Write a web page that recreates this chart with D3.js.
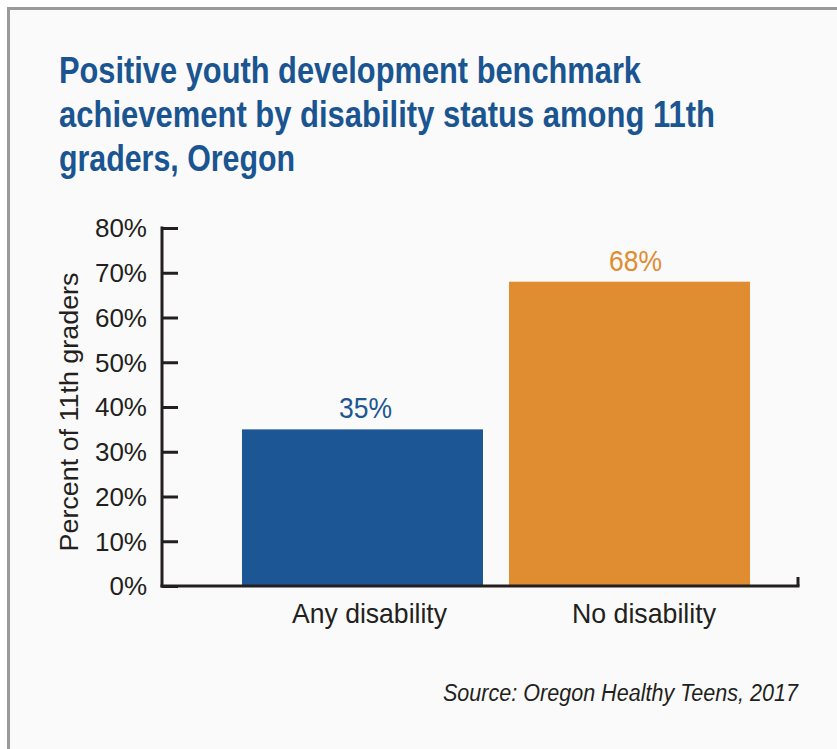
<!DOCTYPE html>
<html>
<head>
<meta charset="utf-8">
<script src="https://cdn.jsdelivr.net/npm/d3@7"></script>
<style>
  html, body { margin: 0; padding: 0; background: #ffffff; }
  svg { display: block; }
</style>
</head>
<body>
<svg id="chart" width="837" height="749"></svg>
<script>
// ---- data ----
const categories = ["Any disability", "No disability"];
const values = [35, 68];
const valueLabels = ["35%", "68%"];
const barColors = ["#1d5694", "#e08c31"];
const yTicks = [0, 10, 20, 30, 40, 50, 60, 70, 80];
const yTickLabels = ["0%", "10%", "20%", "30%", "40%", "50%", "60%", "70%", "80%"];
const titleLines = [
  "Positive youth development benchmark",
  "achievement by disability status among 11th",
  "graders, Oregon"
];
const yAxisTitle = "Percent of 11th graders";
const sourceText = "Source: Oregon Healthy Teens, 2017";

// ---- layout ----
const svg = d3.select("#chart");
const sans = "'Liberation Sans', Arial, sans-serif";

// panel
svg.append("rect").attr("x", 0).attr("y", 0).attr("width", 837).attr("height", 749).attr("fill", "#ffffff");
svg.append("rect")
  .attr("x", 8.5).attr("y", 8.5).attr("width", 840).attr("height", 760)
  .attr("fill", "#fafafa").attr("stroke", "#9a9a9a").attr("stroke-width", 3);

// title
const titleWidths = [582, 656, 236];
svg.append("g").selectAll("text").data(titleLines).join("text")
  .attr("x", 59)
  .attr("y", (d, i) => 83 + i * 44)
  .attr("font-family", sans)
  .attr("font-weight", "bold")
  .attr("font-size", 36)
  .attr("fill", "#1a5592")
  .attr("textLength", (d, i) => titleWidths[i])
  .attr("lengthAdjust", "spacingAndGlyphs")
  .text(d => d);

const x0 = 162, x1 = 798, yTop = 228, yBase = 586;
const y = d3.scaleLinear().domain([0, 80]).range([yBase, yTop]);
const x = d3.scaleBand().domain(categories).range([242, 750]).paddingInner(0.0975);

// bars
svg.append("g").selectAll("rect").data(categories).join("rect")
  .attr("x", d => x(d))
  .attr("y", (d, i) => y(values[i]))
  .attr("width", x.bandwidth())
  .attr("height", (d, i) => yBase - y(values[i]))
  .attr("fill", (d, i) => barColors[i]);

// value labels
svg.append("g").selectAll("text").data(categories).join("text")
  .attr("x", (d, i) => x(d) + x.bandwidth() / 2 + (i === 0 ? 3 : 6))
  .attr("y", (d, i) => y(values[i]) - 11)
  .attr("text-anchor", "middle")
  .attr("font-family", sans)
  .attr("font-size", 30)
  .attr("fill", (d, i) => barColors[i])
  .attr("textLength", 53)
  .attr("lengthAdjust", "spacingAndGlyphs")
  .text((d, i) => valueLabels[i]);

// y axis
const yAxis = d3.axisRight(y).tickValues(yTicks).tickSize(16).tickFormat("");
const gy = svg.append("g").attr("transform", `translate(${x0},0)`).call(yAxis);
gy.select(".domain").remove();
gy.selectAll(".tick line").attr("stroke", "#231f20").attr("stroke-width", 3);
svg.append("line").attr("x1", x0).attr("x2", x0).attr("y1", yTop - 1.5).attr("y2", yBase + 1.5)
  .attr("stroke", "#231f20").attr("stroke-width", 3);
svg.append("g").selectAll("text").data(yTicks).join("text")
  .attr("x", 147)
  .attr("y", d => y(d))
  .attr("dy", "0.36em")
  .attr("text-anchor", "end")
  .attr("font-family", sans)
  .attr("font-size", 26)
  .attr("fill", "#231f20")
  .text((d, i) => yTickLabels[i]);

// x axis
svg.append("line").attr("x1", x0 - 1.5).attr("x2", x1 + 1.5).attr("y1", yBase).attr("y2", yBase)
  .attr("stroke", "#231f20").attr("stroke-width", 3);
svg.append("line").attr("x1", x1).attr("x2", x1).attr("y1", yBase).attr("y2", yBase - 9)
  .attr("stroke", "#231f20").attr("stroke-width", 3);

// category labels
const labelX = d3.scalePoint().domain(categories).range([369.5, 644]);
const labelW = [155, 144];
svg.append("g").selectAll("text").data(categories).join("text")
  .attr("x", d => labelX(d))
  .attr("y", 623)
  .attr("text-anchor", "middle")
  .attr("font-family", sans)
  .attr("font-size", 28)
  .attr("fill", "#231f20")
  .attr("textLength", (d, i) => labelW[i])
  .attr("lengthAdjust", "spacingAndGlyphs")
  .text(d => d);

// y axis title
svg.append("text")
  .attr("transform", "translate(78,412) rotate(-90)")
  .attr("text-anchor", "middle")
  .attr("font-family", sans)
  .attr("font-size", 26)
  .attr("fill", "#231f20")
  .attr("textLength", 279)
  .attr("lengthAdjust", "spacingAndGlyphs")
  .text(yAxisTitle);

// source
svg.append("text")
  .attr("x", 798).attr("y", 701)
  .attr("text-anchor", "end")
  .attr("font-family", sans)
  .attr("font-style", "italic")
  .attr("font-size", 23)
  .attr("fill", "#231f20")
  .attr("textLength", 355)
  .attr("lengthAdjust", "spacingAndGlyphs")
  .text(sourceText);
</script>
</body>
</html>
